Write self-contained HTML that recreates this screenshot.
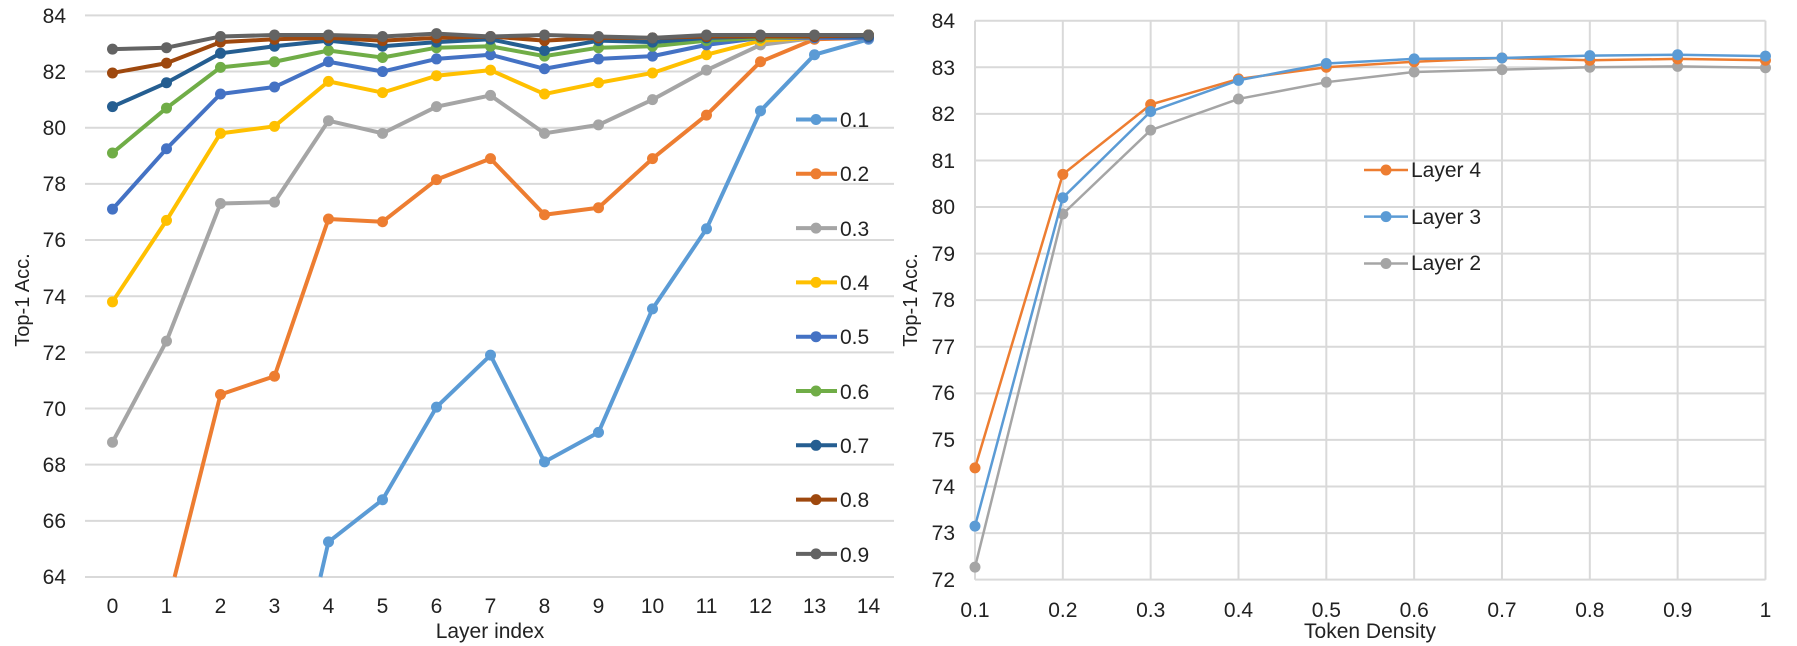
<!DOCTYPE html>
<html><head><meta charset="utf-8"><style>
html,body{margin:0;padding:0;background:#fff;width:1797px;height:646px;overflow:hidden;}
svg{display:block;}
svg text{font-family:"Liberation Sans Narrow","Liberation Sans",sans-serif;fill:#222;}
</style></head><body>
<svg id="s" width="1797" height="646" xmlns="http://www.w3.org/2000/svg">
<g id="grid" stroke="#d9d9d9" stroke-width="2"></g>
<g font-size="21" text-anchor="end">
<text x="66" y="23">84</text><text x="66" y="79">82</text><text x="66" y="135">80</text><text x="66" y="191">78</text><text x="66" y="247">76</text><text x="66" y="304">74</text><text x="66" y="360">72</text><text x="66" y="416">70</text><text x="66" y="472">68</text><text x="66" y="528">66</text><text x="66" y="584">64</text>
</g>
<g font-size="21" text-anchor="middle">
<text x="112.5" y="613">0</text><text x="166.5" y="613">1</text><text x="220.5" y="613">2</text><text x="274.5" y="613">3</text><text x="328.5" y="613">4</text><text x="382.5" y="613">5</text><text x="436.5" y="613">6</text><text x="490.5" y="613">7</text><text x="544.5" y="613">8</text><text x="598.5" y="613">9</text><text x="652.5" y="613">10</text><text x="706.5" y="613">11</text><text x="760.5" y="613">12</text><text x="814.5" y="613">13</text><text x="868.5" y="613">14</text>
<text x="490" y="638">Layer index</text>
<text transform="translate(29,300) rotate(-90)" font-size="20">Top-1 Acc.</text>
</g>
<g font-size="21" text-anchor="end">
<text x="955" y="28">84</text><text x="955" y="75">83</text><text x="955" y="121">82</text><text x="955" y="168">81</text><text x="955" y="214">80</text><text x="955" y="261">79</text><text x="955" y="307">78</text><text x="955" y="354">77</text><text x="955" y="400">76</text><text x="955" y="447">75</text><text x="955" y="494">74</text><text x="955" y="540">73</text><text x="955" y="587">72</text>
</g>
<g font-size="21" text-anchor="middle">
<text x="975" y="617">0.1</text><text x="1062.8" y="617">0.2</text><text x="1150.7" y="617">0.3</text><text x="1238.5" y="617">0.4</text><text x="1326.3" y="617">0.5</text><text x="1414.2" y="617">0.6</text><text x="1502" y="617">0.7</text><text x="1589.8" y="617">0.8</text><text x="1677.7" y="617">0.9</text><text x="1765.5" y="617">1</text>
<text x="1370" y="638">Token Density</text>
<text transform="translate(917,300) rotate(-90)" font-size="20">Top-1 Acc.</text>
</g>
<g id="ser"></g>
<g font-size="21">
<text x="840" y="127">0.1</text><text x="840" y="181">0.2</text><text x="840" y="236">0.3</text><text x="840" y="290">0.4</text><text x="840" y="344">0.5</text><text x="840" y="399">0.6</text><text x="840" y="453">0.7</text><text x="840" y="507">0.8</text><text x="840" y="562">0.9</text>
<text x="1411" y="177">Layer 4</text><text x="1411" y="224">Layer 3</text><text x="1411" y="270">Layer 2</text>
</g>
</svg>
<script>
var NS="http://www.w3.org/2000/svg";
function el(p,t,a){var e=document.createElementNS(NS,t);for(var k in a)e.setAttribute(k,a[k]);p.appendChild(e);return e;}
var g=document.getElementById('grid'),S=document.getElementById('ser');
for(var v=64;v<=84;v+=2){var y=15.4+(84-v)*28.08;el(g,'line',{x1:85,x2:894,y1:y,y2:y});}
for(var v=72;v<=84;v++){var y=20.7+(84-v)*46.58;el(g,'line',{x1:975,x2:1765.5,y1:y,y2:y});}
for(var i=0;i<10;i++){var x=975+i*87.83;el(g,'line',{x1:x,x2:x,y1:20.7,y2:579.7});}
var cols=['#5B9BD5','#ED7D31','#A5A5A5','#FFC000','#4472C4','#70AD47','#255E91','#9E480E','#636363'];
var D=[
[[3.85,64,1],[4,65.25],[5,66.75],[6,70.05],[7,71.9],[8,68.1],[9,69.15],[10,73.55],[11,76.4],[12,80.6],[13,82.6],[14,83.15]],
[[1.15,64,1],[2,70.5],[3,71.15],[4,76.75],[5,76.65],[6,78.15],[7,78.9],[8,76.9],[9,77.15],[10,78.9],[11,80.45],[12,82.35],[13,83.15],[14,83.2]],
[68.8,72.4,77.3,77.35,80.25,79.8,80.75,81.15,79.8,80.1,81.0,82.05,82.95,83.2,83.25],
[73.8,76.7,79.8,80.05,81.65,81.25,81.85,82.05,81.2,81.6,81.95,82.6,83.1,83.2,83.3],
[77.1,79.25,81.2,81.45,82.35,82.0,82.45,82.6,82.1,82.45,82.55,82.95,83.2,83.2,83.2],
[79.1,80.7,82.15,82.35,82.75,82.5,82.85,82.9,82.55,82.85,82.9,83.1,83.2,83.25,83.3],
[80.75,81.6,82.65,82.9,83.1,82.9,83.05,83.15,82.75,83.1,83.05,83.2,83.25,83.25,83.25],
[81.95,82.3,83.05,83.15,83.2,83.1,83.2,83.25,83.1,83.2,83.2,83.25,83.25,83.25,83.3],
[82.8,82.85,83.25,83.3,83.3,83.25,83.35,83.25,83.3,83.25,83.2,83.3,83.3,83.3,83.3]];
D.forEach(function(d,k){var pts=d.map(function(v,i){var a=Array.isArray(v)?v:[i,v];return [112.5+a[0]*54,15.4+(84-a[1])*28.08,a[2]];});
el(S,'polyline',{points:pts.map(function(p){return p[0]+','+p[1]}).join(' '),fill:'none',stroke:cols[k],'stroke-width':4,'stroke-linejoin':'round'});
pts.forEach(function(p){if(!p[2])el(S,'circle',{cx:p[0],cy:p[1],r:5.5,fill:cols[k]});});
var ly=119.5+k*54.3;el(S,'line',{x1:796,x2:837,y1:ly,y2:ly,stroke:cols[k],'stroke-width':4});el(S,'circle',{cx:816,cy:ly,r:5.5,fill:cols[k]});});
var R=[[ '#A5A5A5',[72.27,79.85,81.65,82.32,82.68,82.9,82.95,83.0,83.02,82.99],263.5],
['#ED7D31',[74.4,80.7,82.2,82.75,83.0,83.12,83.2,83.15,83.18,83.15],170],
['#5B9BD5',[73.15,80.2,82.05,82.72,83.08,83.18,83.2,83.25,83.27,83.24],216.6]];
R.forEach(function(r){var pts=r[1].map(function(v,i){return [975+i*87.83,20.7+(84-v)*46.58];});
el(S,'polyline',{points:pts.map(function(p){return p.join(',')}).join(' '),fill:'none',stroke:r[0],'stroke-width':2.5});
pts.forEach(function(p){el(S,'circle',{cx:p[0],cy:p[1],r:5.5,fill:r[0]});});
el(S,'line',{x1:1364,x2:1408,y1:r[2],y2:r[2],stroke:r[0],'stroke-width':2.5});el(S,'circle',{cx:1386,cy:r[2],r:5.5,fill:r[0]});});
</script>
</body></html>
